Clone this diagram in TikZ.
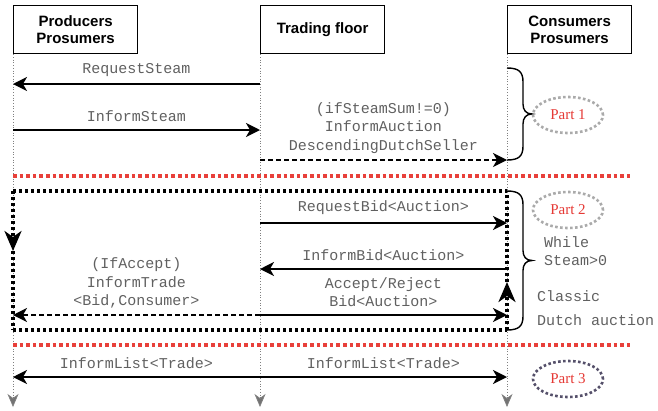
\documentclass[tikz,border=0pt]{standalone}
\usepackage{fontspec}
\setmainfont{Liberation Serif}
\setsansfont{Liberation Sans}
\setmonofont{Liberation Mono}
\usetikzlibrary{arrows.meta,shapes.geometric}
\definecolor{msggray}{HTML}{606060}
\definecolor{sepred}{HTML}{E8403A}
\definecolor{partred}{HTML}{E53935}
\definecolor{lightdot}{HTML}{AAAAAA}
\definecolor{darkdot}{HTML}{55506A}
\begin{document}
\begin{tikzpicture}[x=1pt,y=-1pt,
  header/.style={draw, line width=1.3pt, minimum width=124pt, minimum height=48pt,
    font=\sffamily\bfseries\fontsize{15}{17}\selectfont, align=center, anchor=north west, inner sep=0pt},
  msg/.style={font=\ttfamily\fontsize{15}{18.5}\selectfont, text=msggray, align=center, inner sep=0pt},
  note/.style={font=\ttfamily\fontsize{15}{18.5}\selectfont, text=msggray, align=left, inner sep=0pt, anchor=west},
  arr/.style={line width=1.8pt, -{Stealth[length=14pt,width=14pt,inset=4pt]}},
  dasharr/.style={line width=1.4pt, dash pattern=on 5pt off 3pt, -{Stealth[length=14pt,width=14pt,inset=4pt]}},
  life/.style={draw=gray, line width=0.7pt, dotted, -{Stealth[length=13pt,width=11pt,inset=4pt,fill=gray!90!black]}},
  loopline/.style={line width=3.2pt, dash pattern=on 3pt off 3pt},
  looparr/.style={loopline, -{Stealth[length=20pt,width=17pt,inset=6pt]}},
  sep/.style={draw=sepred, line width=3.6pt, dash pattern=on 3.6pt off 3pt},
  part/.style={ellipse, line width=2.6pt, dash pattern=on 2.6pt off 2.4pt, text=partred,
    font=\rmfamily\fontsize{15}{17}\selectfont, minimum width=70pt, minimum height=36pt, inner sep=0pt},
  brc/.style={line width=1.4pt}
]
\useasboundingbox (0,0) rectangle (658,410);

% headers
\node[header] (prod) at (13,5) {Producers\\Prosumers};
\node[header] (trade) at (260,5) {Trading floor};
\node[header] (cons) at (507,5) {Consumers\\Prosumers};

% lifelines
\coordinate (endP) at (13,407);
\coordinate (endT) at (260,407);
\coordinate (endC) at (507,407);
\draw[life] (prod.south west) -- (endP);
\draw[life] (trade.south west) -- (endT);
\draw[life] (cons.south west) -- (endC);

% Part 1
\coordinate (P1) at (13,84);   \coordinate (T1) at (260,84);
\coordinate (P2) at (13,130);  \coordinate (T2) at (260,130);
\coordinate (T3) at (260,160); \coordinate (C3) at (507,160);
\draw[arr] (T1) -- (P1);
\node[msg] (lRS) at (136.5,70) {RequestSteam};
\draw[arr] (P2) -- (T2);
\node[msg] (lIS) at (136.5,116) {InformSteam};
\draw[dasharr] (T3) -- (C3);
\node[msg] (lIA) at (383.5,128) {(ifSteamSum!=0)\\InformAuction\\DescendingDutchSeller};

% brace 1 (68 -> 160, mid 114)
\draw[brc] (507,68) .. controls (519,68) and (523,72) .. (523,82) -- (523,104)
  .. controls (523,110) and (526,114) .. (532,114)
  .. controls (526,114) and (523,118) .. (523,124) -- (523,146)
  .. controls (523,156) and (519,160) .. (507,160);
\node[part, draw=lightdot] (part1) at (568,115) {Part 1};

% separator 1
\coordinate (S1a) at (13,176); \coordinate (S1b) at (630,176);
\draw[sep] (S1a) -- (S1b);

% Part 2 loop
\coordinate (TL) at (13,191);  \coordinate (TR) at (507,191);
\coordinate (BL) at (13,330);  \coordinate (BR) at (507,330);
\coordinate (LM) at (13,251);  \coordinate (RM) at (507,282);
\draw[loopline] (TL) -- (TR);
\draw[loopline] (BL) -- (BR);
\draw[looparr] (TL) -- (LM);
\draw[loopline] (LM) -- (BL);
\draw[looparr] (BR) -- (RM);
\draw[loopline] (RM) -- (TR);

\coordinate (T4) at (260,223); \coordinate (C4) at (507,223);
\coordinate (T5) at (260,269); \coordinate (C5) at (507,269);
\coordinate (T6) at (260,315); \coordinate (C6) at (507,315);
\coordinate (P6) at (13,315);
\draw[arr] (T4) -- (C4);
\node[msg] (lRB) at (383.5,208) {RequestBid<Auction>};
\draw[arr, line width=1.4pt] (C5) -- (T5);
\node[msg] (lIB) at (383.5,255) {InformBid<Auction>};
\draw[arr] (T6) -- (C6);
\node[msg] (lAR) at (383.5,292) {Accept/Reject\\Bid<Auction>};
\draw[dasharr] (T6) -- (P6);
\node[msg] (lIT) at (136.5,283) {(IfAccept)\\InformTrade\\<Bid,Consumer>};

% brace 2 (191 -> 330, mid 260.5)
\draw[brc] (507,191) .. controls (519,191) and (523,195) .. (523,205) -- (523,250.5)
  .. controls (523,256.5) and (526,260.5) .. (532,260.5)
  .. controls (526,260.5) and (523,264.5) .. (523,270.5) -- (523,316)
  .. controls (523,326) and (519,330) .. (507,330);
\node[part, draw=lightdot] (part2) at (568,210) {Part 2};
\node[note] (nW) at (544,251) {While\\Steam>0};
\node[note] (nC) at (537,296) {Classic};
\node[note] (nD) at (537,320) {Dutch auction};

% separator 2
\coordinate (S2a) at (13,345); \coordinate (S2b) at (630,345);
\draw[sep] (S2a) -- (S2b);

% Part 3
\coordinate (P7) at (13,377); \coordinate (T7) at (260,377); \coordinate (C7) at (507,377);
\draw[arr] (T7) -- (P7);
\draw[arr] (T7) -- (C7);
\node[msg] (lL1) at (136.5,363) {InformList<Trade>};
\node[msg] (lL2) at (383.5,363) {InformList<Trade>};
\node[part, draw=darkdot] (part3) at (568,379) {Part 3};
\end{tikzpicture}
\end{document}
